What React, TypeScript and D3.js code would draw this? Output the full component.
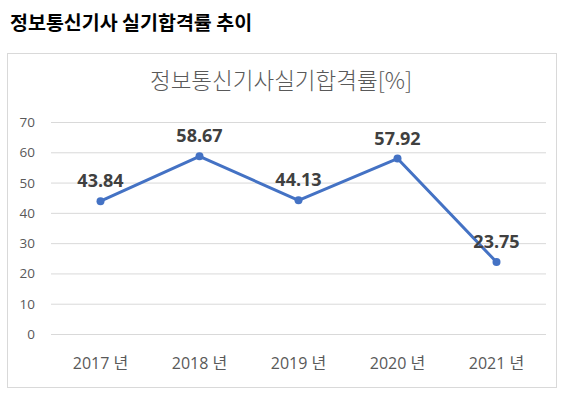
import { scaleBand, scaleLinear, line } from "d3";

const width = 565;
const height = 397;

const pageTitle = "정보통신기사 실기합격률 추이";
const chartTitle = "정보통신기사실기합격률[%]";
const years = ["2017 년", "2018 년", "2019 년", "2020 년", "2021 년"];
const rates = [43.84, 58.67, 44.13, 57.92, 23.75];
const yTicks = [0, 10, 20, 30, 40, 50, 60, 70];

const font = "'Open Sans', 'Noto Sans CJK KR', sans-serif";

export default function App() {
    const xScale = scaleBand<string>()
        .domain(years)
        .range([51, 546]);

    const yScale = scaleLinear()
        .domain([0, 70])
        .range([334, 122]);

    const cx = (d: string) => (xScale(d) ?? 0) + xScale.bandwidth() / 2;

    const path = line<number>()
        .x((_, i) => cx(years[i]))
        .y(d => yScale(d))(rates);

    return (
        <div style={{ position: "absolute", left: 0, top: 0 }}>
            <svg width={width} height={height} style={{ display: "block", background: "#fff" }}>
                <text x={10} y={30} fontFamily="'Noto Sans CJK KR', sans-serif" fontWeight="bold" fontSize={19.5} fill="#000">
                    {pageTitle}
                </text>

                <rect x={7.5} y={53.5} width={549} height={334} fill="#fff" stroke="#d9d9d9" />

                <text x={281} y={89} textAnchor="middle" fontFamily="'Noto Sans CJK KR', sans-serif" fontWeight={300} fontSize={22.5} fill="#595959">
                    {chartTitle}
                </text>

                {yTicks.map(t => (
                    <g key={t}>
                        <line x1={51} x2={546} y1={yScale(t) + 0.5} y2={yScale(t) + 0.5} stroke="#d9d9d9" />
                        <text x={35} y={yScale(t) + 5} textAnchor="end" fontFamily={font} fontSize={13.5} fill="#595959">
                            {t}
                        </text>
                    </g>
                ))}

                {years.map(y => (
                    <text key={y} x={cx(y)} y={369} textAnchor="middle" fontFamily={font} fontSize={16} fill="#595959">
                        {y}
                    </text>
                ))}

                <path d={path ?? ""} fill="none" stroke="#4472c4" strokeWidth={3} strokeLinejoin="round" />

                {rates.map((r, i) => (
                    <circle key={i} cx={cx(years[i])} cy={yScale(r)} r={4} fill="#4472c4" />
                ))}

                {rates.map((r, i) => (
                    <text key={"l" + i} x={cx(years[i])} y={yScale(r) - 14} textAnchor="middle" fontFamily={font} fontWeight="bold" fontSize={18} fill="#404040">
                        {r.toFixed(2)}
                    </text>
                ))}
            </svg>
        </div>
    );
}
